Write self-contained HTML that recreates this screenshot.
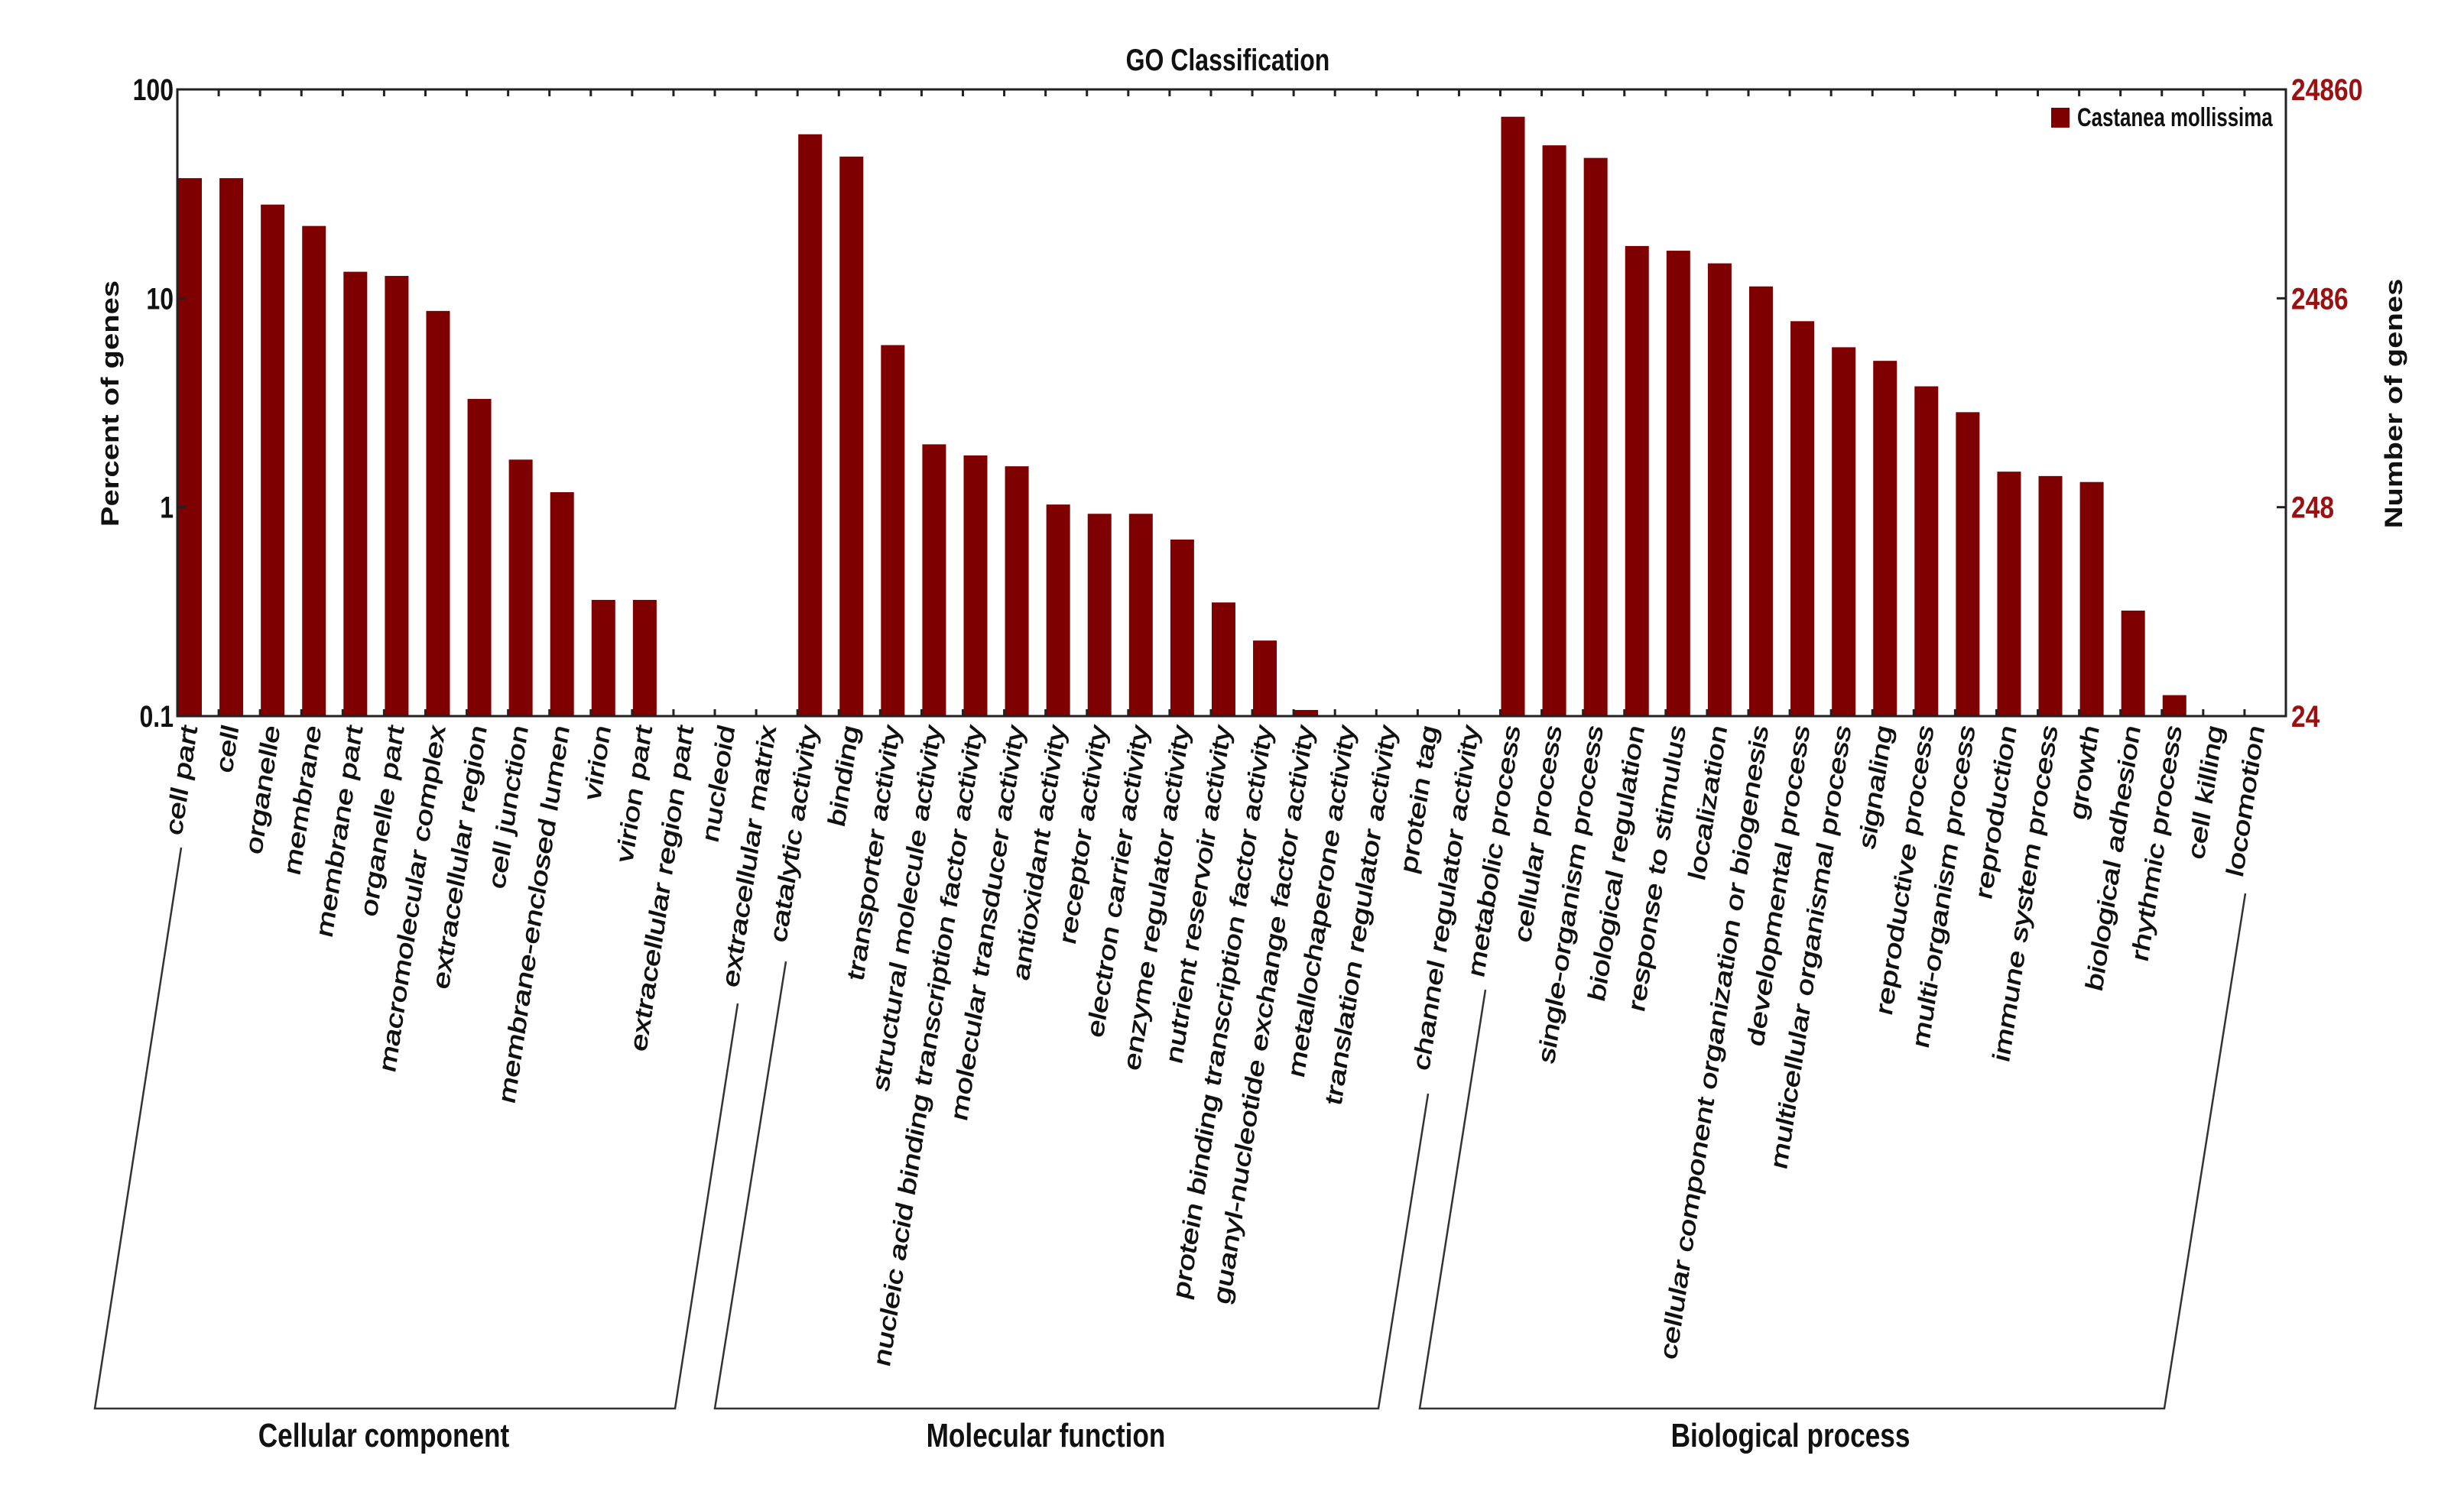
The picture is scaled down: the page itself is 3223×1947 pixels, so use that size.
<!DOCTYPE html>
<html><head><meta charset="utf-8"><style>
html,body{margin:0;padding:0;background:#fff;}
svg{display:block;font-family:"Liberation Sans",Arial,sans-serif;}
</style></head><body>
<svg id="chart" width="3223" height="1947" viewBox="0 0 3223 1947" xmlns="http://www.w3.org/2000/svg"></svg>
<script>
const categories = ["cell part","cell","organelle","membrane","membrane part","organelle part","macromolecular complex","extracellular region","cell junction","membrane-enclosed lumen","virion","virion part","extracellular region part","nucleoid","extracellular matrix",
"catalytic activity","binding","transporter activity","structural molecule activity","nucleic acid binding transcription factor activity","molecular transducer activity","antioxidant activity","receptor activity","electron carrier activity","enzyme regulator activity","nutrient reservoir activity","protein binding transcription factor activity","guanyl-nucleotide exchange factor activity","metallochaperone activity","translation regulator activity","protein tag","channel regulator activity",
"metabolic process","cellular process","single-organism process","biological regulation","response to stimulus","localization","cellular component organization or biogenesis","developmental process","multicellular organismal process","signaling","reproductive process","multi-organism process","reproduction","immune system process","growth","biological adhesion","rhythmic process","cell killing","locomotion"];
const percentValues = [37.6,37.6,28.1,22.2,13.4,12.8,8.7,3.3,1.69,1.18,0.36,0.36,0,0,0,
61,47.7,5.97,2.0,1.77,1.57,1.03,0.93,0.93,0.70,0.35,0.23,0.107,0,0,0,0,
74,54,47,17.8,16.9,14.7,11.4,7.77,5.83,5.02,3.79,2.85,1.48,1.41,1.32,0.32,0.126,0,0];
const leftTicks = [0.1,1,10,100];
const leftTickLabels = ["0.1","1","10","100"];
const rightTickLabels = ["24","248","2486","24860"];
const groupNames = ["Cellular component","Molecular function","Biological process"];

const NS="http://www.w3.org/2000/svg";
const svg=document.getElementById('chart');
const X0=232,X1=2990,Y0=117,Y1=937;
const slot=(X1-X0)/categories.length;
const yMin=0.1,yMax=100;
function yScale(v){return Y1-(Math.log10(v)-Math.log10(yMin))/(Math.log10(yMax)-Math.log10(yMin))*(Y1-Y0);}
function xScale(i){return X0+i*slot;}
function mk(tag,attrs,parent){const e=document.createElementNS(NS,tag);for(const k in attrs)e.setAttribute(k,attrs[k]);(parent||svg).appendChild(e);return e;}
function htext(str,x,y,size,anchor,fill,name,sx){
  const t=mk('text',{transform:`translate(${x},${y}) scale(${sx||0.8},1)`,'font-size':size,'font-weight':'bold','text-anchor':anchor,fill:fill});
  t.textContent=str;
  
  
  return t;
}

const barG=mk('g',{});


categories.forEach((c,i)=>{
  const v=percentValues[i];
  if(!(v>yMin))return;
  const y=yScale(v);
  const r=mk('rect',{x:xScale(i)+1,y:y,width:31,height:Y1-y,fill:'#7f0000'},barG);
  
  
});

const frame=mk('rect',{x:X0,y:Y0,width:X1-X0,height:Y1-Y0,fill:'none',stroke:'#222','stroke-width':3});



for(let i=1;i<categories.length;i++){
  const x=xScale(i);
  const t1=mk('line',{x1:x,y1:Y0,x2:x,y2:Y0+9,stroke:'#222','stroke-width':3});
  
  
  const t2=mk('line',{x1:x,y1:Y1,x2:x,y2:Y1-9,stroke:'#222','stroke-width':3});
  
  
}
leftTicks.forEach((v,i)=>{
  const y=yScale(v);
  const l=mk('line',{x1:X0,y1:y,x2:X0+12,y2:y,stroke:'#222','stroke-width':3});
  
  
  const r=mk('line',{x1:X1,y1:y,x2:X1-12,y2:y,stroke:'#222','stroke-width':3});
  
  
  htext(leftTickLabels[i],X0-5,y+14,40,'end','#111','y-tick-label');
  htext(rightTickLabels[i],X1+7,y+14,40,'start','#9b1010','right-tick-label',0.84);
});

htext('GO Classification',1606,92,40,'middle','#111','chart-title');
const yt=mk('text',{transform:'translate(155,528) rotate(-90) scale(1,0.8)','font-size':40,'font-weight':'bold','text-anchor':'middle',fill:'#111'});
yt.textContent='Percent of genes';


const yt2=mk('text',{transform:'translate(3142,528) rotate(-90) scale(1,0.8)','font-size':40,'font-weight':'bold','text-anchor':'middle',fill:'#111'});
yt2.textContent='Number of genes';



const lg=mk('g',{});


const sw=mk('rect',{x:2683,y:141,width:24,height:26,fill:'#7f0000'},lg);


const lt=mk('text',{transform:'translate(2717,165) scale(0.76,1)','font-size':34,'font-weight':'bold',fill:'#111'},lg);
lt.textContent='Castanea mollissima';



categories.forEach((c,i)=>{
  const cx=xScale(i)+16+10;
  const t=mk('text',{transform:`translate(${cx},952) scale(0.75,1) rotate(-79)`,'font-size':41.5,'font-weight':'normal','text-anchor':'end',fill:'#111',stroke:'#111','stroke-width':0.9});
  t.textContent=c;
  
  
});

const brackets=[[[237,1109],[124,1843],[883,1843],[965,1313]],[[1028,1258],[935,1843],[1803,1843],[1868,1431]],[[1943,1295],[1857,1843],[2831,1843],[2937,1169]]];
const groupCenters=[502,1368,2342];
brackets.forEach((b,i)=>{
  const p=mk('polyline',{points:b.map(q=>q.join(',')).join(' '),fill:'none',stroke:'#333','stroke-width':2.5});
  
  
  htext(groupNames[i],groupCenters[i],1893,44,'middle','#111','group-label');
});
</script>
</body></html>
